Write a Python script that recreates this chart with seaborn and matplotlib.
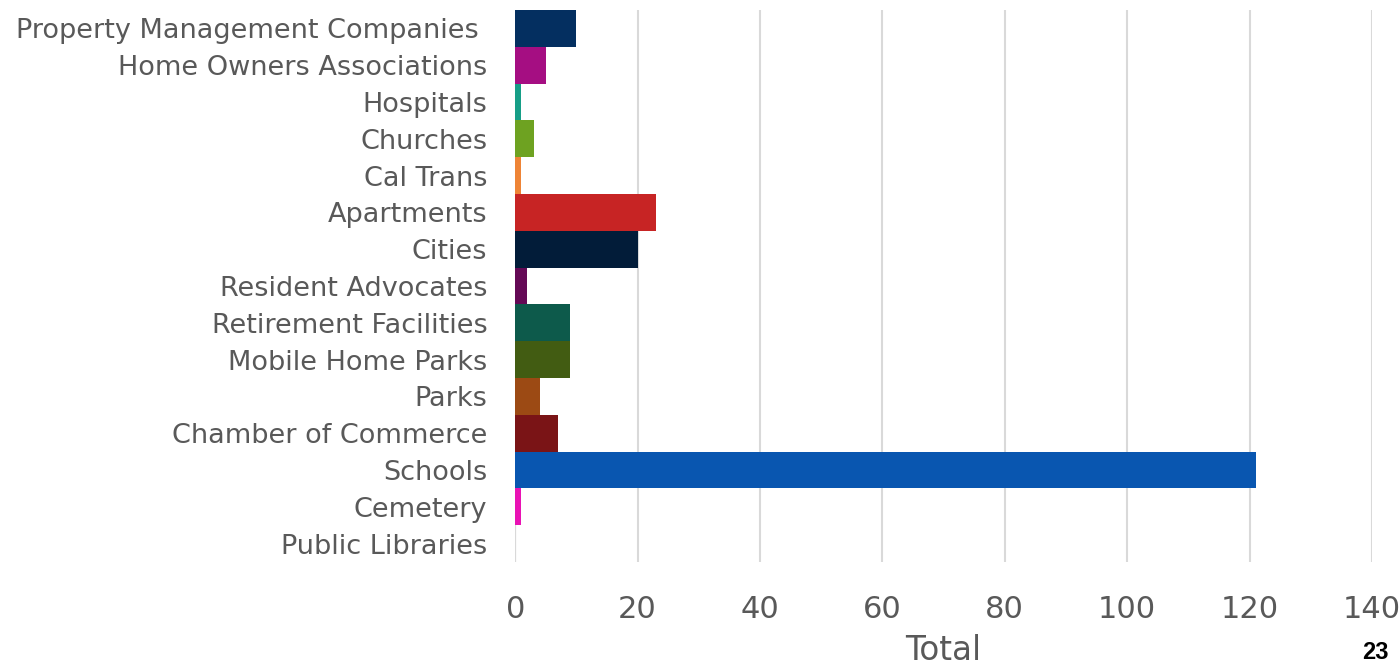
import matplotlib
matplotlib.use("Agg")
import matplotlib.pyplot as plt
import seaborn as sns
import pandas as pd

categories = [
    "Property Management Companies ",
    "Home Owners Associations",
    "Hospitals",
    "Churches",
    "Cal Trans",
    "Apartments",
    "Cities",
    "Resident Advocates",
    "Retirement Facilities",
    "Mobile Home Parks",
    "Parks",
    "Chamber of Commerce",
    "Schools",
    "Cemetery",
    "Public Libraries",
]
totals = [10, 5, 1, 3, 1, 23, 20, 2, 9, 9, 4, 7, 121, 1, 0]
bar_colors = [
    "#042f60", "#a50e82", "#169e87", "#6ea221", "#ee8436",
    "#c72424", "#021c39", "#640955", "#0d5a4b", "#425c12",
    "#9c4a14", "#7a1416", "#0956b0", "#e912b4", "#1f77b4",
]
x_ticks = [0, 20, 40, 60, 80, 100, 120, 140]
page_number = "23"

sns.set_style("white")
plt.rcParams["font.family"] = ["DejaVu Sans"]

df = pd.DataFrame({"category": categories, "total": totals})

fig = plt.figure(figsize=(14, 6.69), dpi=100)
ax = fig.add_axes([0.368, 0.16, 0.612, 0.825])

sns.barplot(
    data=df, x="total", y="category", hue="category",
    palette=bar_colors, width=1.0, orient="h", legend=False,
    ax=ax, saturation=1.0, linewidth=0,
)

ax.set_xlim(0, 140)
ax.set_ylim(len(categories) - 0.5, -0.5)
ax.set_xticks(x_ticks)
ax.xaxis.grid(True, color="#d9d9d9", linewidth=1.5)
ax.set_axisbelow(True)
ax.axvline(0, color="#bfbfbf", linewidth=1.5, zorder=0.5)
for s in ax.spines.values():
    s.set_visible(False)

ax.tick_params(axis="x", length=0, pad=24, labelsize=22, labelcolor="#595959")
ax.tick_params(axis="y", length=0, pad=20, labelsize=19.5, labelcolor="#595959")

ax.set_ylabel("")
ax.set_xlabel("Total", fontsize=23.5, color="#595959", labelpad=7)

fig.text(0.9825, 0.008, page_number, ha="center", va="bottom",
         fontsize=17, fontweight="bold", color="#000000",
         family=["Liberation Sans", "DejaVu Sans"])

fig.savefig("out.png", dpi=100)
